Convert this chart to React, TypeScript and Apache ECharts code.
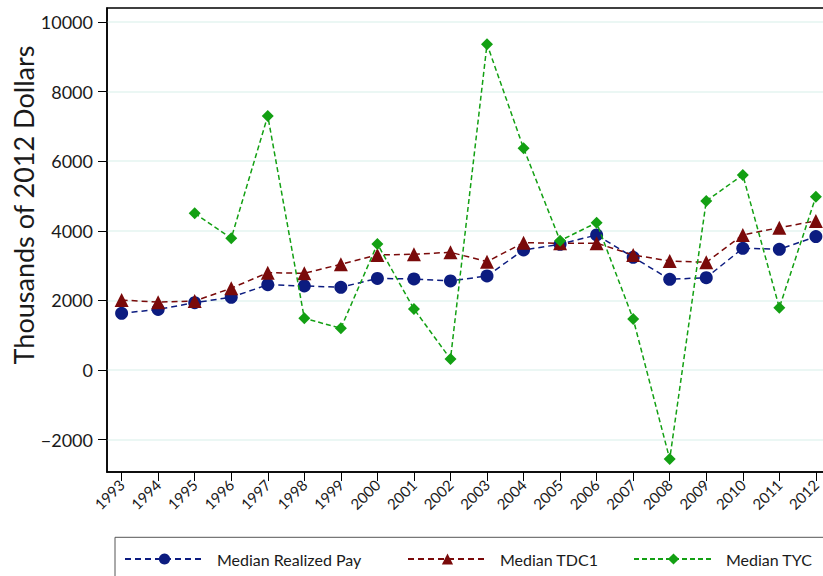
import React, { useEffect, useRef } from "react";
import * as echarts from "echarts";

const years = [1993, 1994, 1995, 1996, 1997, 1998, 1999, 2000, 2001, 2002, 2003, 2004, 2005, 2006, 2007, 2008, 2009, 2010, 2011, 2012];
const realizedPay = [1630, 1740, 1935, 2090, 2450, 2414, 2377, 2630, 2615, 2558, 2702, 3449, 3612, 3880, 3238, 2606, 2653, 3497, 3468, 3832];
const tdc1 = [2010, 1950, 1980, 2350, 2797, 2779, 3038, 3305, 3325, 3382, 3113, 3659, 3640, 3645, 3305, 3133, 3095, 3880, 4090, 4282];
const tyc = [null, null, 4503, 3785, 7300, 1486, 1198, 3621, 1753, 316, 9361, 6372, 3716, 4233, 1466, -2558, 4857, 5604, 1791, 4981];
const yTicks = [-2000, 0, 2000, 4000, 6000, 8000, 10000];
const seriesNames = ["Median Realized Pay", "Median TDC1", "Median TYC"];
const yTitle = "Thousands of 2012 Dollars";

const FONT = "Lato";
const BLUE = "#0c1c80";
const RED = "#7a0a0a";
const GREEN = "#13a013";

export default function App() {
  const ref = useRef<HTMLDivElement>(null);
  useEffect(() => {
    if (!ref.current) return;
    const chart = echarts.init(ref.current, undefined, { renderer: "svg" });
    const pairs = (vals: (number | null)[]) =>
      years.map((y, i) => [y, vals[i]]).filter((p) => p[1] !== null);
    const legendCommon = {
      padding: 0,
      itemWidth: 79,
      itemHeight: 14,
      top: 551,
      textStyle: { fontFamily: FONT, fontSize: 16, color: "#1a1a1a", padding: [0, 0, 0, 8] },
      selectedMode: false,
    };
    chart.setOption({
      animation: false,
      backgroundColor: "#ffffff",
      grid: {
        left: 107,
        top: 8,
        width: 730.8,
        height: 464,
        show: true,
        borderColor: "#000",
        borderWidth: 1.5,
        backgroundColor: "transparent",
      },
      xAxis: {
        type: "value",
        min: 1992.6,
        max: 2012.6,
        axisLine: { show: true, onZero: false, lineStyle: { color: "#000", width: 1.5 } },
        axisTick: { show: true, length: 9, customValues: years, lineStyle: { color: "#000", width: 1 } },
        axisLabel: {
          customValues: years,
          rotate: 45,
          margin: 10,
          fontFamily: FONT,
          fontSize: 15,
          color: "#1a1a1a",
          formatter: (v: number) => String(v),
        },
        splitLine: { show: false },
      },
      yAxis: {
        type: "value",
        min: -2930,
        max: 10400,
        axisLine: { show: true, onZero: false, lineStyle: { color: "#000", width: 1.5 } },
        axisTick: { show: true, length: 9, customValues: yTicks, lineStyle: { color: "#000", width: 1 } },
        axisLabel: {
          customValues: yTicks,
          margin: 14,
          fontFamily: FONT,
          fontSize: 18,
          color: "#1a1a1a",
          formatter: (v: number) => (v < 0 ? "\u2212" + Math.abs(v) : String(v)),
        },
        splitLine: { show: true, lineStyle: { color: "#e4f5f1", width: 1.5 } },
      },
      legend: [
        { ...legendCommon, left: 124, data: [seriesNames[0]] },
        { ...legendCommon, left: 407, data: [seriesNames[1]] },
        { ...legendCommon, left: 633, data: [seriesNames[2]] },
      ],
      graphic: [
        {
          type: "text",
          x: 23,
          y: 205,
          rotation: Math.PI / 2,
          style: {
            text: yTitle,
            fontFamily: FONT,
            fontSize: 27,
            fill: "#1a1a1a",
            align: "center",
            verticalAlign: "middle",
          },
        },
        {
          type: "rect",
          shape: { x: 115, y: 537.3, width: 800, height: 80 },
          style: { fill: "none", stroke: "#555", lineWidth: 1 },
          silent: true,
        },
      ],
      series: [
        {
          name: seriesNames[0],
          type: "line",
          data: pairs(realizedPay),
          symbol: "circle",
          symbolSize: 13,
          itemStyle: { color: BLUE },
          lineStyle: { color: BLUE, width: 1.5, type: [6, 4] },
          z: 2,
        },
        {
          name: seriesNames[1],
          type: "line",
          data: pairs(tdc1),
          symbol: "triangle",
          symbolSize: 14,
          itemStyle: { color: RED },
          lineStyle: { color: RED, width: 1.5, type: [6, 4] },
          z: 3,
        },
        {
          name: seriesNames[2],
          type: "line",
          data: pairs(tyc),
          symbol: "diamond",
          symbolSize: 12,
          itemStyle: { color: GREEN },
          lineStyle: { color: GREEN, width: 1.5, type: [5, 3] },
          z: 4,
        },
      ],
    });
    return () => chart.dispose();
  }, []);
  return (
    <div style={{ position: "fixed", left: 0, top: 0, width: 823, height: 576, overflow: "hidden", background: "#fff" }}>
      <div ref={ref} style={{ width: 900, height: 576 }} />
    </div>
  );
}
